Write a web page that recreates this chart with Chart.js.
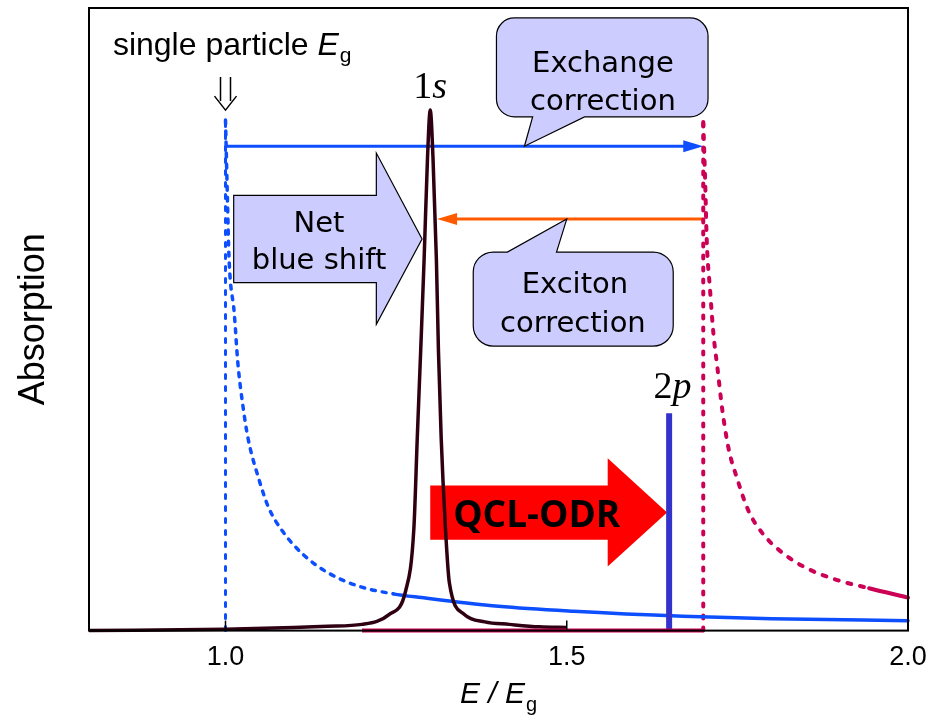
<!DOCTYPE html>
<html>
<head>
<meta charset="utf-8">
<title>Absorption</title>
<script src="https://cdn.jsdelivr.net/npm/chart.js@4.4.1/dist/chart.umd.min.js"></script>
<style>
  html, body { margin: 0; padding: 0; background: #fff; }
  #wrap { width: 931px; height: 722px; position: relative; }
</style>
</head>
<body>
<div id="wrap"><canvas id="absChart"></canvas></div>
<script>
// energy axis, in units of the single-particle gap
const xTicks = [1.0, 1.5, 2.0];

// 1s exciton line
const peakX = [0.80, 1.00, 1.10, 1.15, 1.20, 1.24, 1.264, 1.276, 1.281, 1.286, 1.291, 1.296, 1.300,
               1.304, 1.309, 1.312, 1.316, 1.322, 1.328, 1.350, 1.380, 1.416, 1.460, 1.500];
const peakY = [0.000, 0.002, 0.005, 0.007, 0.010, 0.026, 0.064, 0.164, 0.310, 0.450, 0.596, 0.760, 0.836,
               0.760, 0.596, 0.450, 0.310, 0.170, 0.077, 0.026, 0.014, 0.010, 0.006, 0.005];

// free-particle continuum above the bare gap
const bareX = [1.000, 1.003, 1.005, 1.013, 1.018, 1.025, 1.033, 1.049, 1.063, 1.084, 1.115, 1.150,
               1.196, 1.246, 1.287, 1.400, 1.510, 1.670, 1.800, 2.000];
const bareY = [0.820, 0.686, 0.603, 0.508, 0.431, 0.365, 0.309, 0.243, 0.198, 0.159, 0.121, 0.093,
               0.071, 0.059, 0.053, 0.039, 0.031, 0.023, 0.019, 0.016];

// continuum above the exchange-corrected gap
const shiftX = [1.700, 1.703, 1.705, 1.710, 1.715, 1.721, 1.728, 1.737, 1.750, 1.766, 1.787, 1.816,
                1.850, 1.894, 1.943, 2.000];
const shiftY = [0.817, 0.714, 0.630, 0.547, 0.476, 0.420, 0.354, 0.293, 0.243, 0.193, 0.156, 0.125,
                0.101, 0.082, 0.068, 0.053];

// gap edges and the 2p line
const bareGap = 1.0;
const bareGapTop = 0.82;
const shiftGap = 1.7;
const shiftGapTop = 0.817;
const shiftFloor = [1.2, 1.7];
const line2p = 1.65;
const height2p = 0.349;

// correction arrows (from, to, level)
const exchangeArrow = [1.0, 1.7, 0.778];
const excitonArrow = [1.7, 1.31, 0.661];

const BLUE = '#0d4fff';
const MAGENTA = '#cc0055';
const DARK = '#2e0012';
const LAVENDER = '#ccccff';

const pts = (xs, ys) => xs.map((v, i) => ({ x: v, y: ys[i] }));

function blockArrow(ctx, left, headX, tipX, top, bottom, headTop, headBottom, fill, stroke) {
  const mid = (top + bottom) / 2;
  ctx.beginPath();
  ctx.moveTo(left, top);
  ctx.lineTo(headX, top);
  ctx.lineTo(headX, headTop);
  ctx.lineTo(tipX, mid);
  ctx.lineTo(headX, headBottom);
  ctx.lineTo(headX, bottom);
  ctx.lineTo(left, bottom);
  ctx.closePath();
  ctx.fillStyle = fill;
  ctx.fill();
  if (stroke) {
    ctx.strokeStyle = stroke;
    ctx.lineWidth = 1.2;
    ctx.stroke();
  }
}

function lineArrow(ctx, x1, x2, y, color) {
  const dir = Math.sign(x2 - x1);
  ctx.strokeStyle = color;
  ctx.fillStyle = color;
  ctx.lineWidth = 3;
  ctx.beginPath();
  ctx.moveTo(x1, y);
  ctx.lineTo(x2 - dir * 16, y);
  ctx.stroke();
  ctx.beginPath();
  ctx.moveTo(x2, y);
  ctx.lineTo(x2 - dir * 20, y - 6);
  ctx.lineTo(x2 - dir * 20, y + 6);
  ctx.closePath();
  ctx.fill();
}

// rounded callout; pointer sits on the bottom or top edge
function callout(ctx, l, t, r, b, rad, side, p1, p2, tip) {
  ctx.beginPath();
  ctx.moveTo(l + rad, t);
  if (side === 'top') {
    ctx.lineTo(p1, t);
    ctx.lineTo(tip[0], tip[1]);
    ctx.lineTo(p2, t);
  }
  ctx.lineTo(r - rad, t);
  ctx.arcTo(r, t, r, t + rad, rad);
  ctx.lineTo(r, b - rad);
  ctx.arcTo(r, b, r - rad, b, rad);
  if (side === 'bottom') {
    ctx.lineTo(p2, b);
    ctx.lineTo(tip[0], tip[1]);
    ctx.lineTo(p1, b);
  }
  ctx.lineTo(l + rad, b);
  ctx.arcTo(l, b, l, b - rad, rad);
  ctx.lineTo(l, t + rad);
  ctx.arcTo(l, t, l + rad, t, rad);
  ctx.closePath();
  ctx.fillStyle = LAVENDER;
  ctx.fill();
  ctx.strokeStyle = '#000';
  ctx.lineWidth = 1.2;
  ctx.stroke();
}

const boxFont = '29px "DejaVu Sans"';

const annotations = {
  id: 'annotations',
  beforeDatasetsDraw(chart) {
    const { ctx, scales: { x, y } } = chart;
    const X = v => x.getPixelForValue(v);
    const Y = v => y.getPixelForValue(v);
    ctx.save();

    // QCL-ODR pump arrow
    blockArrow(ctx, X(1.30), X(1.56), X(1.647), Y(0.233), Y(0.146), Y(0.277), Y(0.103), '#ff0000', null);
    ctx.fillStyle = '#000';
    ctx.font = 'bold 37px "Open Sans"';
    ctx.textAlign = 'center';
    ctx.textBaseline = 'alphabetic';
    ctx.fillText('QCL-ODR', X(1.456), Y(0.166));

    // net blue shift
    blockArrow(ctx, X(1.012), X(1.221), X(1.288), Y(0.699), Y(0.559), Y(0.767), Y(0.492), LAVENDER, '#000');
    ctx.fillStyle = '#000';
    ctx.font = boxFont;
    ctx.fillText('Net', X(1.137), Y(0.641));
    ctx.fillText('blue shift', X(1.137), Y(0.580));

    // correction arrows
    lineArrow(ctx, X(exchangeArrow[0]), X(exchangeArrow[1]), Y(exchangeArrow[2]), BLUE);
    lineArrow(ctx, X(excitonArrow[0]), X(excitonArrow[1]), Y(excitonArrow[2]), '#ff5a00');

    // callouts
    callout(ctx, X(1.397), Y(0.984), X(1.707), Y(0.825), 18, 'bottom',
            X(1.45), X(1.526), [X(1.438), Y(exchangeArrow[2])]);
    callout(ctx, X(1.363), Y(0.608), X(1.656), Y(0.457), 20, 'top',
            X(1.413), X(1.485), [X(1.50), Y(excitonArrow[2])]);
    ctx.fillStyle = '#000';
    ctx.font = boxFont;
    ctx.textAlign = 'center';
    ctx.fillText('Exchange', X(1.553), Y(0.897));
    ctx.fillText('correction', X(1.553), Y(0.836));
    ctx.fillText('Exciton', X(1.512), Y(0.542));
    ctx.fillText('correction', X(1.509), Y(0.479));
    ctx.restore();
  },
  afterDatasetsDraw(chart) {
    const { ctx, chartArea: a, scales: { x, y } } = chart;
    const X = v => x.getPixelForValue(v);
    const Y = v => y.getPixelForValue(v);
    ctx.save();

    // frame and inward ticks
    ctx.strokeStyle = '#000';
    ctx.lineWidth = 2;
    ctx.strokeRect(a.left, a.top, a.right - a.left, a.bottom - a.top);
    ctx.lineWidth = 1.5;
    xTicks.forEach(v => {
      ctx.beginPath();
      ctx.moveTo(X(v), a.bottom);
      ctx.lineTo(X(v), a.bottom - 10);
      ctx.stroke();
    });

    // line labels
    ctx.fillStyle = '#000';
    ctx.textBaseline = 'alphabetic';
    ctx.textAlign = 'left';
    const serif = '"Liberation Serif", "Times New Roman", serif';
    const label = (num, letter, cx, base) => {
      ctx.font = '38px ' + serif;
      const w1 = ctx.measureText(num).width;
      ctx.font = 'italic 38px ' + serif;
      const w2 = ctx.measureText(letter).width;
      const x0 = cx - (w1 + w2) / 2;
      ctx.font = '38px ' + serif;
      ctx.fillText(num, x0, base);
      ctx.font = 'italic 38px ' + serif;
      ctx.fillText(letter, x0 + w1, base);
    };
    label('1', 's', X(1.3), Y(0.855));
    label('2', 'p', X(1.655), Y(0.373));

    // single particle gap marker
    const sans = '"Liberation Sans", Arial, sans-serif';
    let cx = X(0.835);
    const base = Y(0.924);
    ctx.font = '32px ' + sans;
    ctx.fillText('single particle ', cx, base);
    cx += ctx.measureText('single particle ').width;
    ctx.font = 'italic 32px ' + sans;
    ctx.fillText('E', cx, base);
    cx += ctx.measureText('E').width;
    ctx.font = '21px ' + sans;
    ctx.fillText('g', cx + 1, base + 7);

    const gx = X(bareGap);
    const gy = Y(0.889);
    ctx.lineWidth = 1.5;
    ctx.beginPath();
    ctx.moveTo(gx - 5, gy); ctx.lineTo(gx - 5, gy + 24);
    ctx.moveTo(gx + 5, gy); ctx.lineTo(gx + 5, gy + 24);
    ctx.moveTo(gx - 11, gy + 19); ctx.lineTo(gx, gy + 33); ctx.lineTo(gx + 11, gy + 19);
    ctx.stroke();

    // axis titles
    ctx.save();
    ctx.translate(44, (a.top + a.bottom) / 2);
    ctx.rotate(-Math.PI / 2);
    ctx.textAlign = 'center';
    ctx.font = '36px ' + sans;
    ctx.fillText('Absorption', 0, 0);
    ctx.restore();

    ctx.textAlign = 'left';
    const parts = [['E / E', 'italic 30px ' + sans, 0], ['g', '20px ' + sans, 8]];
    ctx.font = parts[0][1];
    const wE = ctx.measureText('E / E').width;
    ctx.font = parts[1][1];
    const wg = ctx.measureText('g').width;
    let tx = (a.left + a.right) / 2 - (wE + wg + 1) / 2;
    ctx.font = parts[0][1];
    ctx.fillText('E / E', tx, 703);
    ctx.font = parts[1][1];
    ctx.fillText('g', tx + wE + 1, 711);
    ctx.restore();
  }
};

new Chart(document.getElementById('absChart'), {
  type: 'line',
  data: {
    datasets: [
      {
        data: [{ x: shiftFloor[0], y: 0 }, { x: shiftFloor[1], y: 0 }],
        borderColor: MAGENTA,
        borderWidth: 4
      },
      {
        data: pts(peakX, peakY),
        borderColor: DARK,
        borderWidth: 3.5,
        cubicInterpolationMode: 'monotone'
      },
      {
        data: [{ x: line2p, y: 0 }, { x: line2p, y: height2p }],
        borderColor: '#3333cc',
        borderWidth: 6
      },
      {
        data: pts(bareX, bareY),
        borderColor: BLUE,
        borderWidth: 3.5,
        borderCapStyle: 'round',
        cubicInterpolationMode: 'monotone',
        segment: { borderDash: c => (c.p0.parsed.x < 1.2 ? [4, 7] : undefined) }
      },
      {
        data: pts(shiftX, shiftY),
        borderColor: MAGENTA,
        borderWidth: 4,
        borderCapStyle: 'round',
        cubicInterpolationMode: 'monotone',
        segment: { borderDash: c => (c.p0.parsed.x < 1.94 ? [4, 9] : undefined) }
      },
      {
        data: [{ x: bareGap, y: 0 }, { x: bareGap, y: bareGapTop }],
        borderColor: BLUE,
        borderWidth: 3,
        borderCapStyle: 'round',
        borderDash: [4, 8]
      },
      {
        data: [{ x: shiftGap, y: 0 }, { x: shiftGap, y: shiftGapTop }],
        borderColor: MAGENTA,
        borderWidth: 4,
        borderCapStyle: 'round',
        borderDash: [3, 9]
      }
    ]
  },
  options: {
    responsive: true,
    maintainAspectRatio: false,
    animation: false,
    events: [],
    layout: { padding: { left: 89, right: 23, top: 8, bottom: 37 } },
    elements: { point: { radius: 0 }, line: { fill: false } },
    datasets: { line: { clip: false } },
    plugins: { legend: { display: false }, tooltip: { enabled: false } },
    scales: {
      x: {
        type: 'linear',
        min: 0.8,
        max: 2.0,
        grid: { display: false, drawTicks: false },
        border: { display: false },
        afterBuildTicks: s => { s.ticks = xTicks.map(v => ({ value: v })); },
        afterFit: s => { s.paddingLeft = 0; s.paddingRight = 0; },
        ticks: {
          padding: 11,
          color: '#000',
          font: { family: '"Liberation Sans", Arial, sans-serif', size: 27 },
          callback: v => v.toFixed(1)
        }
      },
      y: { min: 0, max: 1, display: false }
    }
  },
  plugins: [annotations]
});
</script>
</body>
</html>
